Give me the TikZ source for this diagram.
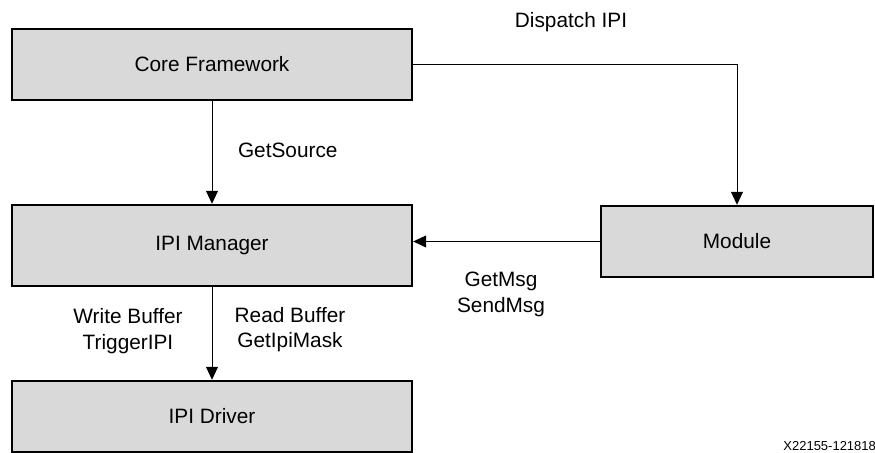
\documentclass[tikz,border=0pt]{standalone}
\usepackage{fontspec}
\setmainfont{Liberation Sans}
\usetikzlibrary{arrows.meta}

\begin{document}
\begin{tikzpicture}[x=0.5pt, y=-0.5pt,
  block/.style={draw, line width=1.2pt, fill=black!15, minimum height=35.5pt,
    inner sep=0pt, font=\fontsize{10.4}{12.8}\selectfont},
  flow/.style={-{Triangle[length=6.5pt,width=6pt]}, line width=0.5pt},
  lbl/.style={align=center, font=\fontsize{10.4}{12.8}\selectfont}]
  \useasboundingbox (0,0) rectangle (875,453);

  % boxes
  \node[block, minimum width=200pt] (core) at (212,64.5) {Core Framework};
  \node[block, minimum width=200pt, minimum height=40.5pt] (manager) at (212,245.5) {IPI Manager};
  \node[block, minimum width=200pt] (driver) at (212,416.5) {IPI Driver};
  \node[block, minimum width=136pt] (module) at (737,241.5) {Module};

  % connectors
  \draw[flow] (core) -- (manager);
  \draw[flow] (core.east) -| (module.north);
  \draw[flow] (module.west) -- (module.west -| manager.east);
  \draw[flow] (manager) -- (driver);

  % labels
  \node[lbl] (dispatch) at (571,22) {Dispatch IPI};
  \node[lbl, anchor=west] (getsource) at (231,150) {GetSource};
  \node[lbl] (msg) at (501,294.5) {GetMsg\\SendMsg};
  \node[lbl] (write) at (128,331) {Write Buffer\\TriggerIPI};
  \node[lbl] (read) at (290,329.5) {Read Buffer\\GetIpiMask};
  \node[anchor=south west, inner sep=0pt, font=\fontsize{6.5}{7}\selectfont] (figid) at (783,451) {X22155-121818};
\end{tikzpicture}
\end{document}
